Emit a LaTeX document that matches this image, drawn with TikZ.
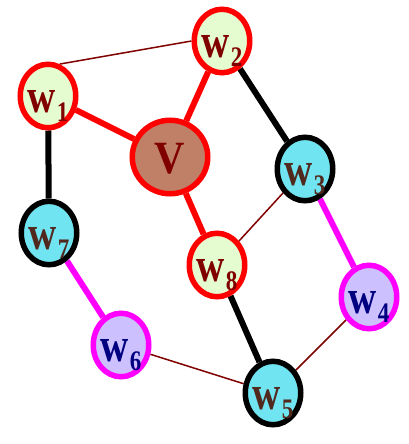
\documentclass[tikz,border=0pt]{standalone}
\usepackage{fontspec}
\setmainfont{Liberation Serif}
\usetikzlibrary{shapes.geometric,backgrounds}
\definecolor{lgreen}{RGB}{228,252,208}
\definecolor{lcyan}{RGB}{112,228,240}
\definecolor{lav}{RGB}{204,192,255}
\definecolor{vfill}{RGB}{192,128,104}
\definecolor{maroon}{RGB}{128,0,0}
\definecolor{dbrown}{RGB}{80,40,30}
\definecolor{navy}{RGB}{0,0,128}
\definecolor{mag}{RGB}{255,0,255}
\definecolor{pred}{RGB}{255,0,0}
\newcommand\wlab[1]{\scalebox{1}[1.23]{\fontsize{39}{39}\selectfont w\kern1pt\raisebox{-8pt}{\fontsize{23}{23}\selectfont #1}}}
\begin{document}
\begin{tikzpicture}[x=1pt,y=-1pt,
  vert/.style={ellipse, line width=5.5pt, inner sep=0pt, minimum width=55.5pt, minimum height=63.5pt},
  gn/.style={vert, draw=pred, fill=lgreen},
  cn/.style={vert, draw=black, fill=lcyan},
  mn/.style={vert, draw=mag, fill=lav},
  vn/.style={ellipse, line width=5.5pt, inner sep=0pt, minimum width=75.5pt, minimum height=73.5pt, draw=pred, fill=vfill},
  lbl/.style={anchor=base, inner sep=0pt, font=\bfseries},
  thinedge/.style={draw=maroon, line width=1.5pt},
  redge/.style={draw=pred, line width=6pt},
  bedge/.style={draw=black, line width=6pt},
  medge/.style={draw=mag, line width=6pt}]
\useasboundingbox (0,0) rectangle (408,444);
\node[gn] (w1) at (48,96) {};
\node[gn] (w2) at (222,41) {};
\node[vn] (v) at (170,157) {};
\node[cn] (w3) at (305,169) {};
\node[gn] (w8) at (217,265) {};
\node[mn] (w4) at (369,297) {};
\node[cn] (w7) at (49,233) {};
\node[mn] (w6) at (121,345) {};
\node[cn] (w5) at (273,393) {};
\begin{scope}[on background layer]
\draw[thinedge] (w1.70) -- (w2.west);
\draw[redge] (w1) -- (v);
\draw[redge] (w2) -- (v);
\draw[redge] (v) -- (w8);
\draw[bedge] (w2) -- (w3);
\draw[bedge] (w1) -- (w7);
\draw[thinedge] (w3) -- (w8);
\draw[medge] (w3) -- (w4);
\draw[medge] (w7) -- (w6);
\draw[thinedge] (w6) -- (w5);
\draw[bedge] (w8) -- (w5);
\draw[thinedge] (w4) -- (w5);
\end{scope}
\node[lbl, text=maroon] (l1) at ([yshift=-16pt]w1.center) {\wlab{1}};
\node[lbl, text=maroon] (l2) at ([yshift=-16pt]w2.center) {\wlab{2}};
\node[lbl, text=maroon] (lv) at ([yshift=-16pt]v.center) {\scalebox{1}[1.1]{\fontsize{42}{42}\selectfont V}};
\node[lbl, text=dbrown] (l3) at ([yshift=-16pt]w3.center) {\wlab{3}};
\node[lbl, text=maroon] (l8) at ([yshift=-16pt]w8.center) {\wlab{8}};
\node[lbl, text=navy] (l4) at ([yshift=-16pt]w4.center) {\wlab{4}};
\node[lbl, text=dbrown] (l7) at ([yshift=-16pt]w7.center) {\wlab{7}};
\node[lbl, text=navy] (l6) at ([yshift=-16pt]w6.center) {\wlab{6}};
\node[lbl, text=dbrown] (l5) at ([yshift=-16pt]w5.center) {\wlab{5}};
\end{tikzpicture}
\end{document}
